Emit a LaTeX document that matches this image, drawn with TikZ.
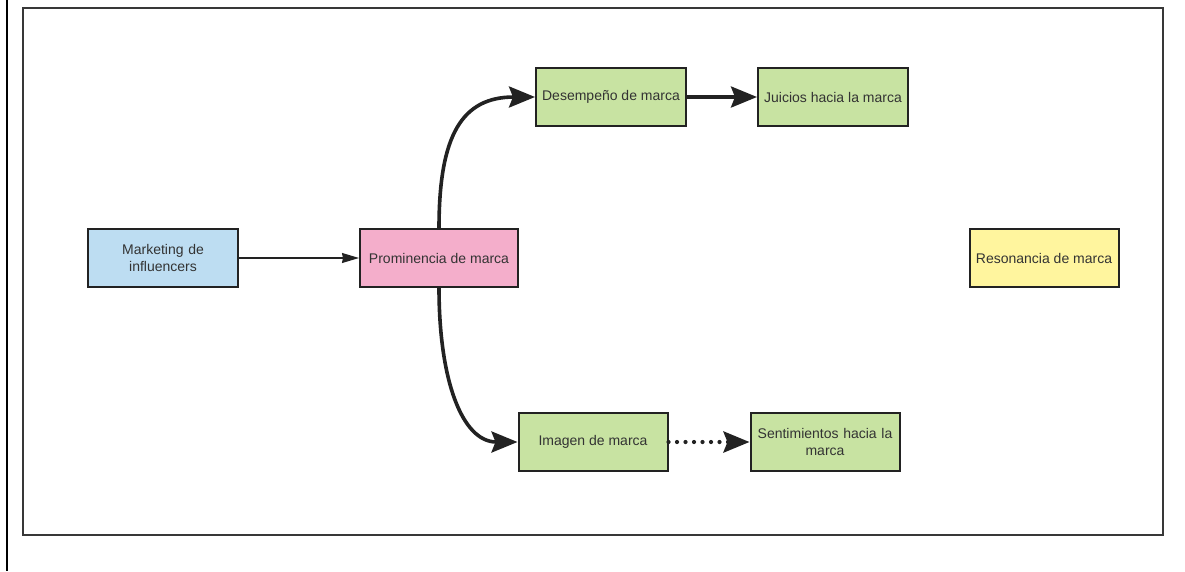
\documentclass[tikz,border=0pt]{standalone}
\usepackage{fontspec}
\setmainfont{Liberation Sans}
\usetikzlibrary{arrows.meta}
\definecolor{txt}{HTML}{333333}
\definecolor{edge}{HTML}{222222}
\definecolor{fblue}{HTML}{BDDDF2}
\definecolor{fpink}{HTML}{F4AECB}
\definecolor{fgreen}{HTML}{C8E3A2}
\definecolor{fyellow}{HTML}{FFF59E}
\tikzset{
  box/.style={draw=edge, line width=2pt, minimum height=58pt, inner sep=2pt,
    text=txt, font=\fontsize{14pt}{17pt}\selectfont, align=center},
  thin/.style={draw=edge, line width=1.1pt, -{Stealth[length=17pt,width=10pt,inset=1pt]}},
  thick/.style={draw=edge, line width=3.6pt, -{Stealth[length=26pt,width=21pt,inset=4pt]}},
  dots/.style={line cap=round, dash pattern=on 0pt off 8.5pt, line width=4.2pt},
}
\begin{document}
\begin{tikzpicture}[x=1pt,y=-1pt]
  \useasboundingbox (0,0) rectangle (1185,571);
  \fill[white] (0,0) rectangle (1185,571);
  % page rule on the left and the figure frame
  \draw[black, line width=2.2pt] (7,0) -- (7,571);
  \draw[edge!90, line width=1.8pt] (23,8) rectangle (1163,535);

  % boxes (positions are centres)
  \node[box, fill=fblue, minimum width=150pt, text width=110pt] (mkt) at (163,258) {Marketing de\\influencers};
  \node[box, fill=fpink, minimum width=158pt] (prom) at (439,258) {Prominencia de marca};
  \node[box, fill=fgreen, minimum width=150pt] (des) at (611,97) {Desempeño de marca};
  \node[box, fill=fgreen, minimum width=150pt] (jui) at (833,97) {Juicios hacia la marca};
  \node[box, fill=fgreen, minimum width=149pt] (img) at (593,442) {Imagen de marca};
  \node[box, fill=fgreen, minimum width=149pt, text width=145pt] (sen) at (825,442) {Sentimientos hacia la\\marca};
  \node[box, fill=fyellow, minimum width=149pt] (res) at (1044,258) {Resonancia de marca};

  % connectors
  \draw[thin] (mkt.east) -- (prom.west);
  \draw[thick] (prom.north) .. controls (439,135) and (462,97) .. (des.west);
  \draw[thick] (prom.south) .. controls (439,380) and (462,442) .. (img.west);
  \draw[thick] (des.east) -- (jui.west);
  \draw[thick, dots] (img.east) -- (sen.west);
\end{tikzpicture}
\end{document}
